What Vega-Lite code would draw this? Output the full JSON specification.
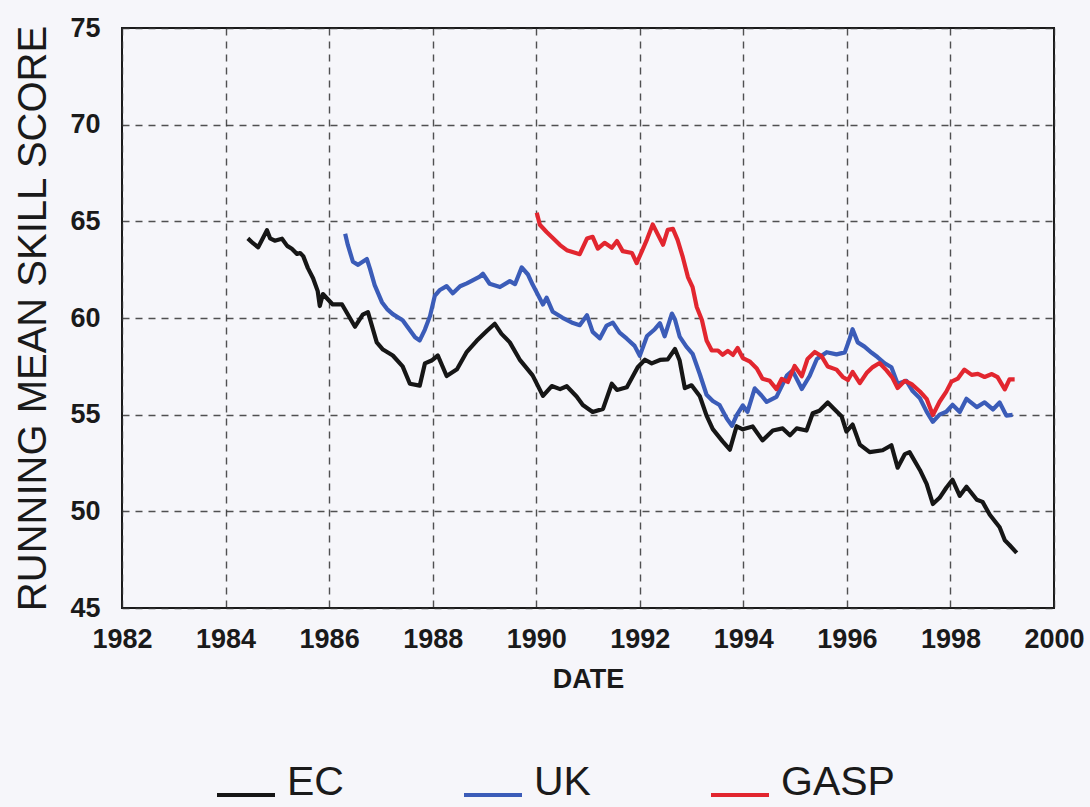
{
  "$schema": "https://vega.github.io/schema/vega-lite/v6.json",
  "width": 932,
  "height": 580,
  "autosize": {"type": "none"},
  "padding": {"left": 122, "top": 28, "right": 36, "bottom": 199},
  "background": "#f6f6fa",
  "config": {
    "font": "Liberation Sans",
    "view": {"stroke": "#1a1a1a", "strokeWidth": 2},
    "axis": {
      "grid": true,
      "gridColor": "#333333",
      "gridDash": [7, 6],
      "gridWidth": 1.4,
      "gridOpacity": 0.85,
      "domain": false,
      "ticks": false,
      "labelFont": "Liberation Sans",
      "labelColor": "#1a1a1a",
      "labelFontSize": 27,
      "labelFontWeight": "bold",
      "titleFont": "Liberation Sans",
      "titleColor": "#1a1a1a"
    },
    "legend": {"labelFont": "Liberation Sans", "labelColor": "#1a1a1a"}
  },
  "data": {
    "values": [
      {"model": "EC", "year": 1984.43, "score": 64.12},
      {"model": "EC", "year": 1984.53, "score": 63.87},
      {"model": "EC", "year": 1984.63, "score": 63.66},
      {"model": "EC", "year": 1984.72, "score": 64.12},
      {"model": "EC", "year": 1984.80, "score": 64.54},
      {"model": "EC", "year": 1984.86, "score": 64.12},
      {"model": "EC", "year": 1984.95, "score": 64.0},
      {"model": "EC", "year": 1985.09, "score": 64.1},
      {"model": "EC", "year": 1985.19, "score": 63.73},
      {"model": "EC", "year": 1985.28, "score": 63.58},
      {"model": "EC", "year": 1985.38, "score": 63.31},
      {"model": "EC", "year": 1985.44, "score": 63.36},
      {"model": "EC", "year": 1985.50, "score": 63.2},
      {"model": "EC", "year": 1985.59, "score": 62.58},
      {"model": "EC", "year": 1985.69, "score": 62.06},
      {"model": "EC", "year": 1985.78, "score": 61.39},
      {"model": "EC", "year": 1985.82, "score": 60.62},
      {"model": "EC", "year": 1985.88, "score": 61.24},
      {"model": "EC", "year": 1986.07, "score": 60.7},
      {"model": "EC", "year": 1986.25, "score": 60.7},
      {"model": "EC", "year": 1986.50, "score": 59.55},
      {"model": "EC", "year": 1986.65, "score": 60.17},
      {"model": "EC", "year": 1986.75, "score": 60.3},
      {"model": "EC", "year": 1986.92, "score": 58.74},
      {"model": "EC", "year": 1987.04, "score": 58.37},
      {"model": "EC", "year": 1987.23, "score": 58.06},
      {"model": "EC", "year": 1987.42, "score": 57.5},
      {"model": "EC", "year": 1987.56, "score": 56.6},
      {"model": "EC", "year": 1987.75, "score": 56.5},
      {"model": "EC", "year": 1987.85, "score": 57.65},
      {"model": "EC", "year": 1987.98, "score": 57.8},
      {"model": "EC", "year": 1988.10, "score": 58.06},
      {"model": "EC", "year": 1988.27, "score": 57.0},
      {"model": "EC", "year": 1988.47, "score": 57.35},
      {"model": "EC", "year": 1988.66, "score": 58.25},
      {"model": "EC", "year": 1988.85, "score": 58.82},
      {"model": "EC", "year": 1989.05, "score": 59.34},
      {"model": "EC", "year": 1989.20, "score": 59.7},
      {"model": "EC", "year": 1989.33, "score": 59.18},
      {"model": "EC", "year": 1989.49, "score": 58.74},
      {"model": "EC", "year": 1989.68, "score": 57.85},
      {"model": "EC", "year": 1989.93, "score": 57.03},
      {"model": "EC", "year": 1990.13, "score": 55.97},
      {"model": "EC", "year": 1990.30, "score": 56.48},
      {"model": "EC", "year": 1990.46, "score": 56.32},
      {"model": "EC", "year": 1990.59, "score": 56.47},
      {"model": "EC", "year": 1990.78, "score": 55.94},
      {"model": "EC", "year": 1990.90, "score": 55.5},
      {"model": "EC", "year": 1991.09, "score": 55.14},
      {"model": "EC", "year": 1991.29, "score": 55.3},
      {"model": "EC", "year": 1991.46, "score": 56.6},
      {"model": "EC", "year": 1991.56, "score": 56.28},
      {"model": "EC", "year": 1991.75, "score": 56.42},
      {"model": "EC", "year": 1991.96, "score": 57.45},
      {"model": "EC", "year": 1992.10, "score": 57.84},
      {"model": "EC", "year": 1992.23, "score": 57.65},
      {"model": "EC", "year": 1992.39, "score": 57.83},
      {"model": "EC", "year": 1992.54, "score": 57.86},
      {"model": "EC", "year": 1992.68, "score": 58.4},
      {"model": "EC", "year": 1992.77, "score": 57.8},
      {"model": "EC", "year": 1992.87, "score": 56.37},
      {"model": "EC", "year": 1993.00, "score": 56.52},
      {"model": "EC", "year": 1993.16, "score": 55.95},
      {"model": "EC", "year": 1993.29, "score": 54.95},
      {"model": "EC", "year": 1993.41, "score": 54.25},
      {"model": "EC", "year": 1993.60, "score": 53.62},
      {"model": "EC", "year": 1993.74, "score": 53.19},
      {"model": "EC", "year": 1993.87, "score": 54.4},
      {"model": "EC", "year": 1993.99, "score": 54.24},
      {"model": "EC", "year": 1994.18, "score": 54.39},
      {"model": "EC", "year": 1994.37, "score": 53.67},
      {"model": "EC", "year": 1994.57, "score": 54.18},
      {"model": "EC", "year": 1994.76, "score": 54.29},
      {"model": "EC", "year": 1994.90, "score": 53.93},
      {"model": "EC", "year": 1995.03, "score": 54.29},
      {"model": "EC", "year": 1995.22, "score": 54.18},
      {"model": "EC", "year": 1995.34, "score": 55.07},
      {"model": "EC", "year": 1995.47, "score": 55.2},
      {"model": "EC", "year": 1995.63, "score": 55.63},
      {"model": "EC", "year": 1995.73, "score": 55.36},
      {"model": "EC", "year": 1995.90, "score": 54.9},
      {"model": "EC", "year": 1995.99, "score": 54.13},
      {"model": "EC", "year": 1996.11, "score": 54.49},
      {"model": "EC", "year": 1996.25, "score": 53.45},
      {"model": "EC", "year": 1996.44, "score": 53.06},
      {"model": "EC", "year": 1996.69, "score": 53.16},
      {"model": "EC", "year": 1996.86, "score": 53.42},
      {"model": "EC", "year": 1996.98, "score": 52.26},
      {"model": "EC", "year": 1997.12, "score": 52.96},
      {"model": "EC", "year": 1997.21, "score": 53.06},
      {"model": "EC", "year": 1997.41, "score": 52.14},
      {"model": "EC", "year": 1997.54, "score": 51.42},
      {"model": "EC", "year": 1997.66, "score": 50.38},
      {"model": "EC", "year": 1997.79, "score": 50.7},
      {"model": "EC", "year": 1997.92, "score": 51.22},
      {"model": "EC", "year": 1998.04, "score": 51.63},
      {"model": "EC", "year": 1998.18, "score": 50.8},
      {"model": "EC", "year": 1998.31, "score": 51.27},
      {"model": "EC", "year": 1998.51, "score": 50.6},
      {"model": "EC", "year": 1998.62, "score": 50.49},
      {"model": "EC", "year": 1998.76, "score": 49.82},
      {"model": "EC", "year": 1998.95, "score": 49.18},
      {"model": "EC", "year": 1999.05, "score": 48.5},
      {"model": "EC", "year": 1999.14, "score": 48.26},
      {"model": "EC", "year": 1999.28, "score": 47.85},

      {"model": "UK", "year": 1986.31, "score": 64.36},
      {"model": "UK", "year": 1986.36, "score": 63.79},
      {"model": "UK", "year": 1986.46, "score": 62.91},
      {"model": "UK", "year": 1986.56, "score": 62.75},
      {"model": "UK", "year": 1986.73, "score": 63.05},
      {"model": "UK", "year": 1986.79, "score": 62.54},
      {"model": "UK", "year": 1986.88, "score": 61.7},
      {"model": "UK", "year": 1987.02, "score": 60.82},
      {"model": "UK", "year": 1987.12, "score": 60.46},
      {"model": "UK", "year": 1987.23, "score": 60.2},
      {"model": "UK", "year": 1987.42, "score": 59.88},
      {"model": "UK", "year": 1987.66, "score": 59.0},
      {"model": "UK", "year": 1987.75, "score": 58.84},
      {"model": "UK", "year": 1987.85, "score": 59.4},
      {"model": "UK", "year": 1987.95, "score": 60.11},
      {"model": "UK", "year": 1988.04, "score": 61.14},
      {"model": "UK", "year": 1988.14, "score": 61.45},
      {"model": "UK", "year": 1988.27, "score": 61.65},
      {"model": "UK", "year": 1988.39, "score": 61.28},
      {"model": "UK", "year": 1988.53, "score": 61.64},
      {"model": "UK", "year": 1988.66, "score": 61.79},
      {"model": "UK", "year": 1988.91, "score": 62.14},
      {"model": "UK", "year": 1988.97, "score": 62.29},
      {"model": "UK", "year": 1989.10, "score": 61.77},
      {"model": "UK", "year": 1989.30, "score": 61.6},
      {"model": "UK", "year": 1989.49, "score": 61.91},
      {"model": "UK", "year": 1989.59, "score": 61.75},
      {"model": "UK", "year": 1989.72, "score": 62.62},
      {"model": "UK", "year": 1989.84, "score": 62.25},
      {"model": "UK", "year": 1989.93, "score": 61.73},
      {"model": "UK", "year": 1990.03, "score": 61.22},
      {"model": "UK", "year": 1990.13, "score": 60.7},
      {"model": "UK", "year": 1990.20, "score": 61.05},
      {"model": "UK", "year": 1990.32, "score": 60.32},
      {"model": "UK", "year": 1990.51, "score": 60.01},
      {"model": "UK", "year": 1990.71, "score": 59.74},
      {"model": "UK", "year": 1990.84, "score": 59.63},
      {"model": "UK", "year": 1990.98, "score": 60.14},
      {"model": "UK", "year": 1991.09, "score": 59.28},
      {"model": "UK", "year": 1991.23, "score": 58.95},
      {"model": "UK", "year": 1991.36, "score": 59.61},
      {"model": "UK", "year": 1991.48, "score": 59.76},
      {"model": "UK", "year": 1991.61, "score": 59.24},
      {"model": "UK", "year": 1991.75, "score": 58.93},
      {"model": "UK", "year": 1991.90, "score": 58.56},
      {"model": "UK", "year": 1992.00, "score": 58.04},
      {"model": "UK", "year": 1992.14, "score": 59.07},
      {"model": "UK", "year": 1992.29, "score": 59.42},
      {"model": "UK", "year": 1992.39, "score": 59.73},
      {"model": "UK", "year": 1992.48, "score": 59.05},
      {"model": "UK", "year": 1992.62, "score": 60.23},
      {"model": "UK", "year": 1992.68, "score": 59.92},
      {"model": "UK", "year": 1992.77, "score": 59.04},
      {"model": "UK", "year": 1992.90, "score": 58.52},
      {"model": "UK", "year": 1993.02, "score": 58.15},
      {"model": "UK", "year": 1993.16, "score": 57.09},
      {"model": "UK", "year": 1993.29, "score": 56.03},
      {"model": "UK", "year": 1993.41, "score": 55.71},
      {"model": "UK", "year": 1993.54, "score": 55.5},
      {"model": "UK", "year": 1993.68, "score": 54.8},
      {"model": "UK", "year": 1993.78, "score": 54.42},
      {"model": "UK", "year": 1993.87, "score": 54.96},
      {"model": "UK", "year": 1993.99, "score": 55.48},
      {"model": "UK", "year": 1994.08, "score": 55.15},
      {"model": "UK", "year": 1994.22, "score": 56.36},
      {"model": "UK", "year": 1994.35, "score": 55.99},
      {"model": "UK", "year": 1994.45, "score": 55.66},
      {"model": "UK", "year": 1994.64, "score": 55.92},
      {"model": "UK", "year": 1994.84, "score": 57.02},
      {"model": "UK", "year": 1994.95, "score": 57.28},
      {"model": "UK", "year": 1995.13, "score": 56.33},
      {"model": "UK", "year": 1995.28, "score": 57.0},
      {"model": "UK", "year": 1995.42, "score": 57.88},
      {"model": "UK", "year": 1995.61, "score": 58.23},
      {"model": "UK", "year": 1995.80, "score": 58.12},
      {"model": "UK", "year": 1995.96, "score": 58.22},
      {"model": "UK", "year": 1996.05, "score": 58.9},
      {"model": "UK", "year": 1996.11, "score": 59.42},
      {"model": "UK", "year": 1996.21, "score": 58.74},
      {"model": "UK", "year": 1996.34, "score": 58.52},
      {"model": "UK", "year": 1996.48, "score": 58.2},
      {"model": "UK", "year": 1996.59, "score": 57.98},
      {"model": "UK", "year": 1996.73, "score": 57.66},
      {"model": "UK", "year": 1996.86, "score": 57.45},
      {"model": "UK", "year": 1996.98, "score": 56.6},
      {"model": "UK", "year": 1997.15, "score": 56.75},
      {"model": "UK", "year": 1997.27, "score": 56.22},
      {"model": "UK", "year": 1997.41, "score": 55.85},
      {"model": "UK", "year": 1997.54, "score": 55.16},
      {"model": "UK", "year": 1997.66, "score": 54.63},
      {"model": "UK", "year": 1997.79, "score": 55.0},
      {"model": "UK", "year": 1997.92, "score": 55.15},
      {"model": "UK", "year": 1998.04, "score": 55.51},
      {"model": "UK", "year": 1998.18, "score": 55.14},
      {"model": "UK", "year": 1998.31, "score": 55.82},
      {"model": "UK", "year": 1998.51, "score": 55.39},
      {"model": "UK", "year": 1998.66, "score": 55.64},
      {"model": "UK", "year": 1998.82, "score": 55.27},
      {"model": "UK", "year": 1998.95, "score": 55.63},
      {"model": "UK", "year": 1999.08, "score": 54.95},
      {"model": "UK", "year": 1999.20, "score": 54.99},

      {"model": "GASP", "year": 1990.01, "score": 65.44},
      {"model": "GASP", "year": 1990.07, "score": 64.82},
      {"model": "GASP", "year": 1990.20, "score": 64.45},
      {"model": "GASP", "year": 1990.32, "score": 64.14},
      {"model": "GASP", "year": 1990.46, "score": 63.77},
      {"model": "GASP", "year": 1990.59, "score": 63.51},
      {"model": "GASP", "year": 1990.84, "score": 63.3},
      {"model": "GASP", "year": 1990.98, "score": 64.11},
      {"model": "GASP", "year": 1991.09, "score": 64.2},
      {"model": "GASP", "year": 1991.19, "score": 63.59},
      {"model": "GASP", "year": 1991.32, "score": 63.89},
      {"model": "GASP", "year": 1991.46, "score": 63.63},
      {"model": "GASP", "year": 1991.56, "score": 63.98},
      {"model": "GASP", "year": 1991.67, "score": 63.46},
      {"model": "GASP", "year": 1991.85, "score": 63.36},
      {"model": "GASP", "year": 1991.94, "score": 62.84},
      {"model": "GASP", "year": 1992.04, "score": 63.45},
      {"model": "GASP", "year": 1992.14, "score": 64.07},
      {"model": "GASP", "year": 1992.25, "score": 64.84},
      {"model": "GASP", "year": 1992.35, "score": 64.31},
      {"model": "GASP", "year": 1992.45, "score": 63.79},
      {"model": "GASP", "year": 1992.54, "score": 64.56},
      {"model": "GASP", "year": 1992.64, "score": 64.61},
      {"model": "GASP", "year": 1992.73, "score": 64.04},
      {"model": "GASP", "year": 1992.83, "score": 63.16},
      {"model": "GASP", "year": 1992.93, "score": 62.12},
      {"model": "GASP", "year": 1993.02, "score": 61.6},
      {"model": "GASP", "year": 1993.10, "score": 60.57},
      {"model": "GASP", "year": 1993.20, "score": 59.9},
      {"model": "GASP", "year": 1993.29, "score": 58.84},
      {"model": "GASP", "year": 1993.39, "score": 58.32},
      {"model": "GASP", "year": 1993.51, "score": 58.32},
      {"model": "GASP", "year": 1993.60, "score": 58.1},
      {"model": "GASP", "year": 1993.70, "score": 58.3},
      {"model": "GASP", "year": 1993.80, "score": 58.09},
      {"model": "GASP", "year": 1993.89, "score": 58.45},
      {"model": "GASP", "year": 1993.99, "score": 57.93},
      {"model": "GASP", "year": 1994.12, "score": 57.76},
      {"model": "GASP", "year": 1994.26, "score": 57.39},
      {"model": "GASP", "year": 1994.37, "score": 56.86},
      {"model": "GASP", "year": 1994.51, "score": 56.75},
      {"model": "GASP", "year": 1994.64, "score": 56.32},
      {"model": "GASP", "year": 1994.74, "score": 56.85},
      {"model": "GASP", "year": 1994.86, "score": 56.69},
      {"model": "GASP", "year": 1994.99, "score": 57.52},
      {"model": "GASP", "year": 1995.13, "score": 56.99},
      {"model": "GASP", "year": 1995.24, "score": 57.88},
      {"model": "GASP", "year": 1995.38, "score": 58.24},
      {"model": "GASP", "year": 1995.51, "score": 58.03},
      {"model": "GASP", "year": 1995.63, "score": 57.49},
      {"model": "GASP", "year": 1995.80, "score": 57.33},
      {"model": "GASP", "year": 1995.92, "score": 56.95},
      {"model": "GASP", "year": 1996.02, "score": 56.79},
      {"model": "GASP", "year": 1996.11, "score": 57.21},
      {"model": "GASP", "year": 1996.25, "score": 56.63},
      {"model": "GASP", "year": 1996.38, "score": 57.15},
      {"model": "GASP", "year": 1996.50, "score": 57.46},
      {"model": "GASP", "year": 1996.63, "score": 57.67},
      {"model": "GASP", "year": 1996.77, "score": 57.28},
      {"model": "GASP", "year": 1996.88, "score": 56.91},
      {"model": "GASP", "year": 1996.98, "score": 56.38},
      {"model": "GASP", "year": 1997.12, "score": 56.75},
      {"model": "GASP", "year": 1997.25, "score": 56.58},
      {"model": "GASP", "year": 1997.41, "score": 56.2},
      {"model": "GASP", "year": 1997.54, "score": 55.82},
      {"model": "GASP", "year": 1997.66, "score": 54.98},
      {"model": "GASP", "year": 1997.79, "score": 55.67},
      {"model": "GASP", "year": 1997.92, "score": 56.19},
      {"model": "GASP", "year": 1998.02, "score": 56.71},
      {"model": "GASP", "year": 1998.14, "score": 56.86},
      {"model": "GASP", "year": 1998.27, "score": 57.33},
      {"model": "GASP", "year": 1998.41, "score": 57.06},
      {"model": "GASP", "year": 1998.53, "score": 57.11},
      {"model": "GASP", "year": 1998.66, "score": 56.95},
      {"model": "GASP", "year": 1998.80, "score": 57.1},
      {"model": "GASP", "year": 1998.91, "score": 56.94},
      {"model": "GASP", "year": 1999.05, "score": 56.31},
      {"model": "GASP", "year": 1999.14, "score": 56.83},
      {"model": "GASP", "year": 1999.24, "score": 56.83}
    ]
  },
  "mark": {"type": "line", "strokeWidth": 4.2, "strokeJoin": "round"},
  "encoding": {
    "x": {
      "field": "year",
      "type": "quantitative",
      "scale": {"domain": [1982, 2000], "nice": false, "zero": false},
      "axis": {
        "title": "DATE",
        "values": [1982, 1984, 1986, 1988, 1990, 1992, 1994, 1996, 1998, 2000],
        "format": "d",
        "labelPadding": 18,
        "labelFlush": false,
        "titleFontSize": 27,
        "titleFontWeight": "bold",
        "titlePadding": 14
      }
    },
    "y": {
      "field": "score",
      "type": "quantitative",
      "scale": {"domain": [45, 75], "nice": false, "zero": false},
      "axis": {
        "title": "RUNNING MEAN SKILL SCORE",
        "values": [45, 50, 55, 60, 65, 70, 75],
        "labelPadding": 22,
        "labelFlush": false,
        "titleFontSize": 40,
        "titleFontWeight": "normal",
        "titlePadding": 16
      }
    },
    "color": {
      "field": "model",
      "type": "nominal",
      "scale": {"domain": ["EC", "UK", "GASP"], "range": ["#161616", "#3b5cb8", "#e2262f"]},
      "legend": {
        "title": null,
        "orient": "none",
        "legendX": 93,
        "legendY": 736,
        "direction": "horizontal",
        "symbolType": "stroke",
        "symbolSize": 3364,
        "symbolStrokeWidth": 4,
        "labelFontSize": 41,
        "labelOffset": 10,
        "labelBaseline": "alphabetic",
        "columnPadding": 55,
        "gridAlign": "all",
        "padding": 0
      }
    }
  }
}
